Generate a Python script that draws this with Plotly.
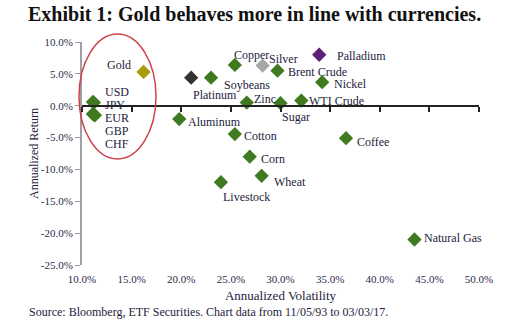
import plotly.graph_objects as go

# ---- data ----
names = ["USD", "JPY", "EUR", "GBP", "CHF", "Gold", "Platinum", "Soybeans", "Copper",
         "Silver", "Brent Crude", "Palladium", "Nickel", "Zinc", "Sugar", "WTI Crude",
         "Aluminum", "Cotton", "Corn", "Coffee", "Livestock", "Wheat", "Natural Gas"]
volatility = [11.1, 11.2, 11.2, 11.1, 11.3, 16.2, 21.0, 23.0, 25.4,
              28.2, 29.7, 33.9, 34.2, 26.6, 30.0, 32.1,
              19.8, 25.4, 26.9, 36.6, 24.0, 28.1, 43.5]
ret = [0.6, 0.5, -1.4, -1.3, -1.5, 5.3, 4.4, 4.4, 6.4,
       6.3, 5.5, 8.0, 3.7, 0.5, 0.4, 0.8,
       -2.1, -4.45, -8.0, -5.1, -12.0, -11.0, -21.0]
x_ticks = [10, 15, 20, 25, 30, 35, 40, 45, 50]
y_ticks = [10, 5, 0, -5, -10, -15, -20, -25]

# ---- styles ----
GREEN = "#3f7a20"
special_colors = {"Gold": "#a99a08", "Platinum": "#333333", "Silver": "#a6a6a6",
                  "Palladium": "#5e1f78"}
colors = [special_colors.get(n, GREEN) for n in names]
TXT = "#1c1c3c"
FONT = "Liberation Serif, Times New Roman, serif"

# label offsets in pixels: (dx, dy, xanchor) ; dy positive = down
label_pos = {
    "Gold": (-11, -7, "right"),
    "Platinum": (0, 17, "left"),
    "Soybeans": (11, 7, "left"),
    "Copper": (-3, -10, "left"),
    "Silver": (4, -7, "left"),
    "Brent Crude": (8, 1, "left"),
    "Palladium": (16, 1, "left"),
    "Nickel": (10, 2, "left"),
    "Zinc": (5, -4, "left"),
    "Sugar": (-1, 14, "left"),
    "WTI Crude": (6, 0, "left"),
    "Aluminum": (7, 3, "left"),
    "Cotton": (7, 2, "left"),
    "Corn": (9, 2, "left"),
    "Coffee": (9, 4, "left"),
    "Livestock": (0, 15, "left"),
    "Wheat": (10, 6, "left"),
    "Natural Gas": (8, -2, "left"),
}

fig = go.Figure()
fig.add_trace(go.Scatter(
    x=volatility, y=ret, mode="markers",
    marker=dict(symbol="diamond", size=11, color=colors, line=dict(width=0)),
    hovertext=names, showlegend=False,
))
# invisible trace for the crossing axis
fig.add_trace(go.Scatter(x=[x_ticks[0]], y=[0], xaxis="x2", mode="markers",
                         marker=dict(opacity=0), showlegend=False, hoverinfo="skip"))

annotations = []
for n, xv, yv in zip(names, volatility, ret):
    if n in label_pos:
        dx, dy, xa = label_pos[n]
        annotations.append(dict(x=xv, y=yv, text=n, showarrow=False, xanchor=xa,
                                yanchor="middle", xshift=dx, yshift=-dy,
                                font=dict(family=FONT, size=12, color=TXT)))
# currency group labels, stacked under the USD point
i_usd = names.index("USD")
for k, n in enumerate(names[:5]):
    annotations.append(dict(x=volatility[i_usd], y=ret[i_usd], text=n, showarrow=False,
                            xanchor="left", yanchor="middle", borderpad=0,
                            xshift=11, yshift=-(-10 + 13 * k),
                            font=dict(family=FONT, size=12, color=TXT)))

W, H = 510, 325
ML, MR, MT, MB = 82, 31, 42, 60
pw, ph = W - ML - MR, H - MT - MB

# title
annotations.append(dict(x=(254 - ML) / pw, y=1, xref="paper", yref="paper", xanchor="center",
                        yanchor="bottom", yshift=15,
                        text="<b>Exhibit 1: Gold behaves more in line with currencies.</b>",
                        showarrow=False, font=dict(family=FONT, size=20, color="#111111")))
# source
annotations.append(dict(x=(27 - ML) / pw, y=(H - MB - 312) / ph, xref="paper", yref="paper",
                        showarrow=False,
                        text="Source: Bloomberg, ETF Securities. Chart data from 11/05/93 to 03/03/17.",
                        xanchor="left", yanchor="middle",
                        font=dict(family=FONT, size=12, color=TXT)))

fig.update_layout(
    width=W, height=H, margin=dict(l=ML, r=MR, t=MT, b=MB),
    paper_bgcolor="white", plot_bgcolor="white",
    font=dict(family=FONT, size=11, color=TXT),
    annotations=annotations,
    xaxis=dict(range=[10, 50], tickvals=x_ticks, ticktext=[f"{v:.1f}%" for v in x_ticks],
               showgrid=False, zeroline=False, showline=False, ticks="",
               ticklabelstandoff=6,
               title=dict(text="Annualized Volatility", standoff=6,
                          font=dict(family=FONT, size=13, color=TXT)),
               tickfont=dict(family=FONT, size=11, color="#2a2a4a")),
    xaxis2=dict(range=[10, 50], overlaying="x", anchor="free", position=25 / 35,
                tickvals=x_ticks, showticklabels=False, ticks="outside", ticklen=5,
                tickcolor="#222222", tickwidth=1.5, showline=True, linecolor="#222222",
                linewidth=2, showgrid=False, zeroline=False, side="bottom"),
    yaxis=dict(range=[-25, 10], tickvals=y_ticks, ticktext=[f"{v:.1f}%" for v in y_ticks],
               showgrid=False, zeroline=False, showline=True, linecolor="#a0a0a0",
               linewidth=2, ticks="outside", ticklen=5, tickcolor="#a0a0a0",
               title=dict(text="Annualized Return", standoff=0,
                          font=dict(family=FONT, size=12, color=TXT)),
               tickfont=dict(family=FONT, size=11, color="#2a2a4a")),
    shapes=[dict(type="circle", xref="paper", yref="paper",
                 x0=(79 - ML) / pw, x1=(156 - ML) / pw,
                 y0=(H - MB - 159) / ph, y1=(H - MB - 34) / ph,
                 line=dict(color="#d0404a", width=1.5))],
)

fig.write_html("out.html")
